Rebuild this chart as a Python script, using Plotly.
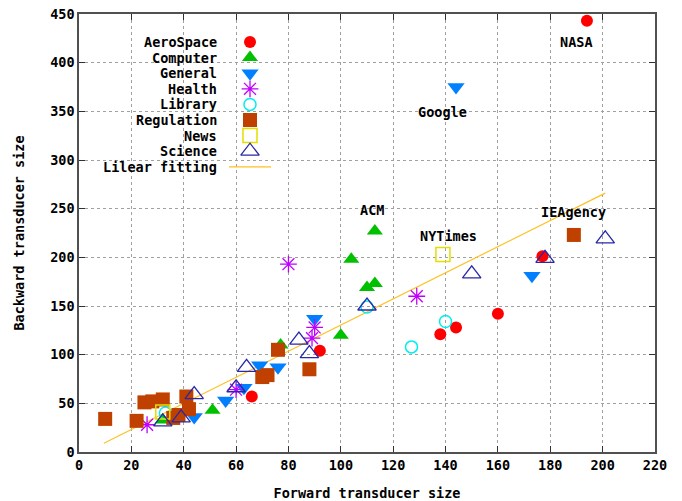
import plotly.graph_objects as go

# ---------------- data ----------------
aero_x = [194, 177, 160, 144, 138, 92, 66]
aero_y = [443, 201, 142, 128, 121, 104, 57]

comp_x = [113, 104, 113, 110, 100, 77, 51, 32]
comp_y = [227, 198, 173, 169, 120, 110, 43, 33]

gen_x = [144, 173, 90, 69, 76, 63, 56, 44]
gen_y = [375, 181, 137, 89, 87, 66, 53, 36]

health_x = [80, 129, 90, 89, 60, 26]
health_y = [193, 160, 128, 117, 64, 28]

lib_x = [140, 127, 110, 33]
lib_y = [134, 108, 149, 40]

reg_x = [10, 22, 25, 28, 32, 41, 42, 38, 36, 70, 72, 76, 88, 189]
reg_y = [34, 32, 51, 52, 54, 57, 44, 38, 35, 77, 79, 105, 85, 223]

news_x = [139, 32]
news_y = [203, 41]

sci_x = [201, 178, 150, 110, 84, 88, 64, 60, 44, 39, 32]
sci_y = [219, 199, 183, 150, 115, 101, 87, 66, 59, 35, 31]

fit_x = [9.5, 201]
fit_y = [9, 266]

label_text = ["NASA", "Google", "ACM", "NYTimes", "IEAgency"]
label_x = [190, 139, 112, 141, 189]
label_y = [421, 349, 249, 222, 247]

categories = ["AeroSpace", "Computer", "General", "Health", "Library",
              "Regulation", "News", "Science"]
fit_name = "Lilear fitting"

x_ticks = list(range(0, 221, 20))
y_ticks = list(range(0, 451, 50))

# ---------------- styles ----------------
FONT = "DejaVu Sans Mono"
FS = 13.5
styles = [
    dict(symbol="circle", size=12, color="#ff0000", line=dict(width=0)),
    dict(symbol="triangle-up", size=14, color="#00c000", line=dict(width=0)),
    dict(symbol="triangle-down", size=15, color="#0080ff", line=dict(width=0)),
    dict(symbol="asterisk-open", size=14, color="#c000ff", line=dict(width=1.3, color="#c000ff")),
    dict(symbol="circle-open", size=12, color="#00eeee", line=dict(width=1.5, color="#00eeee")),
    dict(symbol="square", size=14, color="#c04000", line=dict(width=0)),
    dict(symbol="square-open", size=14, color="#e0e000", line=dict(width=1.5, color="#e0e000")),
    dict(symbol="triangle-up-open", size=16, color="#2828a8", line=dict(width=1.3, color="#2828a8")),
]
FIT_COLOR = "#ffc020"

series = [(aero_x, aero_y), (comp_x, comp_y), (gen_x, gen_y), (health_x, health_y),
          (lib_x, lib_y), (reg_x, reg_y), (news_x, news_y), (sci_x, sci_y)]

fig = go.Figure()

# fit line first (below markers)
fig.add_trace(go.Scatter(x=fit_x, y=fit_y, mode="lines",
                         line=dict(color=FIT_COLOR, width=1.2),
                         showlegend=False, hoverinfo="skip"))

for name, (xs, ys), st in zip(categories, series, styles):
    fig.add_trace(go.Scatter(x=xs, y=ys, mode="markers", name=name,
                             marker=st, showlegend=False))

# ---------------- custom legend (text left, symbol right) ----------------
L, R, T, B = 79, 655, 14, 452
leg_text_x = 219
leg_sym_x = 250
leg_y0 = 42
leg_dy = 15.6
txt_font = dict(family=FONT, size=FS, color="#000000", weight="bold")

for i, (name, st) in enumerate(zip(categories, styles)):
    yy = leg_y0 + i * leg_dy
    fig.add_trace(go.Scatter(x=[leg_sym_x], y=[yy], mode="markers", marker=st,
                             xaxis="x2", yaxis="y2", showlegend=False,
                             hoverinfo="skip"))
    fig.add_annotation(x=leg_text_x, y=yy, xref="x2", yref="y2", text=name,
                       showarrow=False, xanchor="right", yanchor="middle",
                       font=txt_font)

yy = leg_y0 + len(categories) * leg_dy
fig.add_trace(go.Scatter(x=[leg_sym_x - 21, leg_sym_x + 21], y=[yy, yy], mode="lines",
                         line=dict(color=FIT_COLOR, width=1.2),
                         xaxis="x2", yaxis="y2", showlegend=False, hoverinfo="skip"))
fig.add_annotation(x=leg_text_x, y=yy, xref="x2", yref="y2", text=fit_name,
                   showarrow=False, xanchor="right", yanchor="middle", font=txt_font)

# point labels
for t, lx, ly in zip(label_text, label_x, label_y):
    fig.add_annotation(x=lx, y=ly, text=t, showarrow=False, xanchor="center",
                       yanchor="middle", font=txt_font)

axis_common = dict(
    showline=True, linecolor="#505050", linewidth=1.5, mirror="ticks",
    ticks="inside", ticklen=6, tickcolor="#303030", tickwidth=1.3,
    showgrid=True, gridcolor="#a0a0a0", griddash="dot", gridwidth=1,
    zeroline=False, automargin=False,
    tickfont=txt_font,
)

fig.update_layout(
    width=682, height=501,
    margin=dict(l=L, r=682 - R, t=T, b=501 - B),
    paper_bgcolor="white", plot_bgcolor="white",
    xaxis=dict(range=[0, 220], tickvals=x_ticks, ticktext=[str(v) for v in x_ticks],
               title=dict(text="Forward transducer size", standoff=17, font=txt_font),
               **axis_common),
    yaxis=dict(range=[0, 450], tickvals=y_ticks, ticktext=[str(v) for v in y_ticks],
               title=dict(text="Backward transducer size", standoff=22, font=txt_font),
               **axis_common),
    xaxis2=dict(overlaying="x", range=[L, R], visible=False, fixedrange=True),
    yaxis2=dict(overlaying="y", range=[B, T], visible=False, fixedrange=True),
    showlegend=False,
)

fig.write_html("out.html")
